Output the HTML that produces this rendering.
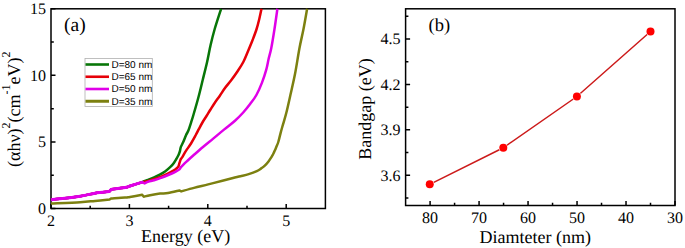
<!DOCTYPE html>
<html><head><meta charset="utf-8"><style>
html,body{margin:0;padding:0;background:#fff;}
body{width:685px;height:248px;overflow:hidden;}
svg{display:block;}
text{font-family:"Liberation Serif",serif;fill:#000;text-rendering:geometricPrecision;}
.t{font-size:16px;}
.ax{font-size:18px;}
.ax2{font-size:18px;}
.sup{font-size:12px;}
.lb{font-size:18.5px;}
.lg{font-family:"Liberation Sans",sans-serif;font-size:10px;}
</style></head><body>
<svg width="685" height="248" viewBox="0 0 685 248">
<rect x="51.0" y="8.8" width="274.40" height="199.70" fill="none" stroke="#000" stroke-width="1.5"/>
<path d="M51.00,208.5V204.00M129.40,208.5V204.00M207.80,208.5V204.00M286.20,208.5V204.00M90.20,208.5V205.70M168.60,208.5V205.70M247.00,208.5V205.70M51.0,208.50H55.50M51.0,141.93H55.50M51.0,75.37H55.50M51.0,8.80H55.50M51.0,175.22H53.80M51.0,108.65H53.80M51.0,42.08H53.80" stroke="#000" stroke-width="1.5" fill="none"/>
<text x="51.00" y="226.4" class="t" text-anchor="middle">2</text>
<text x="129.40" y="226.4" class="t" text-anchor="middle">3</text>
<text x="207.80" y="226.4" class="t" text-anchor="middle">4</text>
<text x="286.20" y="226.4" class="t" text-anchor="middle">5</text>
<text x="46.1" y="213.70" class="t" text-anchor="end">0</text>
<text x="46.1" y="147.13" class="t" text-anchor="end">5</text>
<text x="46.1" y="80.57" class="t" text-anchor="end">10</text>
<text x="46.1" y="14.00" class="t" text-anchor="end">15</text>
<g fill="none" stroke-width="2.5" stroke-linejoin="round" stroke-linecap="butt">
<path d="M51.00,199.80C55.87,199.20 72.87,197.30 80.20,196.20C87.53,195.10 90.15,193.98 95.00,193.20C99.85,192.42 106.92,191.78 109.30,191.50C109.60,191.15 110.80,189.75 111.10,189.40C113.42,189.10 121.85,188.17 125.00,187.60C128.15,187.03 127.07,186.92 130.00,186.00C132.93,185.08 140.50,182.75 142.60,182.10C143.58,181.53 146.58,180.43 148.50,179.70C150.42,178.97 152.22,178.33 154.10,177.50C155.98,176.67 157.92,175.75 159.80,174.70C161.68,173.65 163.63,172.50 165.40,171.20C167.17,169.90 169.05,168.18 170.40,166.90C171.75,165.62 172.52,164.82 173.50,163.50C174.48,162.18 175.47,160.42 176.30,159.00C177.13,157.58 177.88,156.33 178.50,155.00C179.12,153.67 179.75,151.67 180.00,151.00C180.13,150.37 180.28,148.65 180.80,147.20C181.32,145.75 182.22,144.33 183.10,142.30C183.98,140.27 185.22,136.97 186.10,135.00C186.98,133.03 187.55,132.65 188.40,130.50C189.25,128.35 190.37,124.68 191.20,122.10C192.03,119.52 192.18,119.18 193.40,115.00C194.62,110.82 196.95,102.83 198.50,97.00C200.05,91.17 201.27,85.83 202.70,80.00C204.13,74.17 205.78,67.83 207.10,62.00C208.42,56.17 209.33,50.50 210.60,45.00C211.87,39.50 212.95,35.03 214.70,29.00C216.45,22.97 220.03,12.17 221.10,8.80" stroke="#087608"/>
<path d="M51.00,199.80C55.87,199.20 72.87,197.30 80.20,196.20C87.53,195.10 90.15,193.98 95.00,193.20C99.85,192.42 106.92,191.78 109.30,191.50C109.60,191.15 110.80,189.75 111.10,189.40C113.42,189.10 121.85,188.17 125.00,187.60C128.15,187.03 127.07,186.92 130.00,186.00C132.93,185.08 140.50,182.75 142.60,182.10C143.58,181.75 146.10,181.60 148.50,181.00C150.90,180.40 154.42,179.23 157.00,178.30C159.58,177.37 161.88,176.35 164.00,175.40C166.12,174.45 167.83,173.60 169.70,172.60C171.57,171.60 173.77,170.40 175.20,169.40C176.63,168.40 177.58,167.70 178.30,166.60C179.02,165.50 179.10,164.03 179.50,162.80C179.90,161.57 180.50,159.80 180.70,159.20C181.00,158.80 181.60,158.22 182.50,156.80C183.40,155.38 184.68,152.92 186.10,150.70C187.52,148.48 189.38,146.12 191.00,143.50C192.62,140.88 194.50,137.38 195.80,135.00C197.10,132.62 197.65,131.37 198.80,129.20C199.95,127.03 201.42,124.20 202.70,122.00C203.98,119.80 205.20,118.08 206.50,116.00C207.80,113.92 209.08,111.75 210.50,109.50C211.92,107.25 213.42,104.83 215.00,102.50C216.58,100.17 218.33,97.92 220.00,95.50C221.67,93.08 223.17,90.50 225.00,88.00C226.83,85.50 228.96,83.20 231.00,80.50C233.04,77.80 235.20,74.88 237.25,71.80C239.30,68.72 241.46,65.55 243.30,62.00C245.14,58.45 246.75,54.17 248.30,50.50C249.85,46.83 251.22,43.58 252.60,40.00C253.98,36.42 255.47,32.58 256.60,29.00C257.73,25.42 258.58,21.87 259.40,18.50C260.22,15.13 261.15,10.42 261.50,8.80" stroke="#e60008"/>
<path d="M51.00,199.80C55.87,199.20 72.87,197.30 80.20,196.20C87.53,195.10 90.15,193.98 95.00,193.20C99.85,192.42 106.92,191.78 109.30,191.50C109.60,191.15 110.80,189.75 111.10,189.40C113.42,189.10 121.85,188.17 125.00,187.60C128.15,187.03 127.10,186.92 130.00,186.00C132.90,185.08 140.33,182.75 142.40,182.10C142.73,182.07 144.07,183.13 144.40,183.40C145.08,183.10 146.88,182.12 148.50,181.60C150.12,181.08 151.98,180.93 154.10,180.30C156.22,179.67 158.85,178.68 161.20,177.80C163.55,176.92 165.85,176.00 168.20,175.00C170.55,174.00 173.42,172.75 175.30,171.80C177.18,170.85 178.80,169.72 179.50,169.30C179.78,168.88 180.92,167.22 181.20,166.80C182.08,165.93 184.45,163.52 186.50,161.60C188.55,159.68 190.75,157.73 193.50,155.30C196.25,152.87 199.72,149.78 203.00,147.00C206.28,144.22 209.70,141.50 213.20,138.60C216.70,135.70 220.37,132.58 224.00,129.60C227.63,126.62 231.80,123.55 235.00,120.70C238.20,117.85 240.65,115.32 243.20,112.50C245.75,109.68 248.10,106.72 250.30,103.80C252.50,100.88 254.45,98.53 256.40,95.00C258.35,91.47 260.37,86.78 262.00,82.60C263.63,78.42 265.10,73.83 266.20,69.90C267.30,65.97 267.75,62.65 268.60,59.00C269.45,55.35 270.32,53.00 271.30,48.00C272.28,43.00 273.48,35.53 274.50,29.00C275.52,22.47 276.92,12.17 277.40,8.80" stroke="#e000e8"/>
<path d="M51.00,203.60C55.87,203.38 72.87,202.75 80.20,202.30C87.53,201.85 90.10,201.37 95.00,200.90C99.90,200.43 107.17,199.73 109.60,199.50C109.83,199.35 110.77,198.75 111.00,198.60C113.33,198.43 121.83,197.88 125.00,197.60C128.17,197.32 127.15,197.37 130.00,196.90C132.85,196.43 140.08,195.15 142.10,194.80C142.38,195.03 143.52,196.37 143.80,196.70C144.85,196.45 147.40,195.72 150.10,195.20C152.80,194.68 157.02,193.95 160.00,193.60C162.98,193.25 164.78,193.62 168.00,193.10C171.22,192.58 177.42,190.93 179.30,190.50C179.62,190.65 180.88,191.25 181.20,191.40C183.33,190.82 189.50,189.07 194.00,187.90C198.50,186.73 203.47,185.60 208.20,184.40C212.93,183.20 218.27,181.77 222.40,180.70C226.53,179.63 229.98,178.75 233.00,178.00C236.02,177.25 237.88,176.85 240.50,176.20C243.12,175.55 245.98,174.95 248.70,174.10C251.42,173.25 254.72,172.05 256.80,171.10C258.88,170.15 259.87,169.32 261.20,168.40C262.53,167.48 263.58,166.77 264.80,165.60C266.02,164.43 267.42,162.78 268.50,161.40C269.58,160.02 270.52,158.53 271.30,157.30C272.08,156.07 272.62,155.12 273.20,154.00C273.78,152.88 274.23,151.90 274.80,150.60C275.37,149.30 276.02,147.63 276.60,146.20C277.18,144.77 277.62,144.27 278.30,142.00C278.98,139.73 279.90,135.58 280.70,132.60C281.50,129.62 282.15,127.45 283.10,124.10C284.05,120.75 285.18,117.35 286.40,112.50C287.62,107.65 288.97,101.40 290.40,95.00C291.83,88.60 293.48,81.93 295.00,74.10C296.52,66.27 298.08,55.52 299.50,48.00C300.92,40.48 302.23,35.53 303.50,29.00C304.77,22.47 306.50,12.17 307.10,8.80" stroke="#7c8010"/>
<path d="M51.00,199.80C55.87,199.20 72.87,197.30 80.20,196.20C87.53,195.10 90.15,193.98 95.00,193.20C99.85,192.42 106.92,191.78 109.30,191.50C109.60,191.15 110.80,189.75 111.10,189.40C113.42,189.10 121.85,188.17 125.00,187.60C128.15,187.03 127.10,186.92 130.00,186.00C132.90,185.08 140.33,182.75 142.40,182.10" stroke="#e000e8" stroke-width="3"/>
</g>
<rect x="85" y="58.5" width="67.3" height="48" fill="#fff" stroke="#b0b0b0" stroke-width="0.8"/>
<path d="M85.5,64.50H109" stroke="#087608" stroke-width="2.6"/>
<text x="111.5" y="67.90" class="lg">D=80 nm</text>
<path d="M85.5,76.75H109" stroke="#e60008" stroke-width="2.6"/>
<text x="111.5" y="80.15" class="lg">D=65 nm</text>
<path d="M85.5,89.00H109" stroke="#e000e8" stroke-width="2.6"/>
<text x="111.5" y="92.40" class="lg">D=50 nm</text>
<path d="M85.5,101.25H109" stroke="#7c8010" stroke-width="3.0"/>
<text x="111.5" y="104.65" class="lg">D=35 nm</text>
<text x="64" y="30.8" class="lb" style="font-size:19.5px">(a)</text>
<text x="141" y="242.3" class="ax">Energy (eV)</text>
<text transform="translate(19.6,167) rotate(-90)" class="ax2">(αhν)<tspan class="sup" dy="-9.6">2</tspan><tspan dy="9.6">(cm</tspan><tspan class="sup" dy="-9.6">-1</tspan><tspan dy="9.6">eV)</tspan><tspan class="sup" dy="-9.6">2</tspan></text>
<rect x="405.6" y="8.8" width="269.40" height="196.70" fill="none" stroke="#000" stroke-width="1.5"/>
<path d="M430.09,205.5V201.00M479.07,205.5V201.00M528.05,205.5V201.00M577.04,205.5V201.00M626.02,205.5V201.00M675.00,205.5V201.00M454.58,205.5V202.70M503.56,205.5V202.70M552.55,205.5V202.70M601.53,205.5V202.70M650.51,205.5V202.70M405.6,175.24H410.10M405.6,129.85H410.10M405.6,84.45H410.10M405.6,39.06H410.10M405.6,197.93H408.40M405.6,152.54H408.40M405.6,107.15H408.40M405.6,61.76H408.40M405.6,16.37H408.40" stroke="#000" stroke-width="1.5" fill="none"/>
<text x="430.09" y="223.1" class="t" text-anchor="middle">80</text>
<text x="479.07" y="223.1" class="t" text-anchor="middle">70</text>
<text x="528.05" y="223.1" class="t" text-anchor="middle">60</text>
<text x="577.04" y="223.1" class="t" text-anchor="middle">50</text>
<text x="626.02" y="223.1" class="t" text-anchor="middle">40</text>
<text x="675.00" y="223.1" class="t" text-anchor="middle">30</text>
<text x="400.4" y="180.64" class="t" text-anchor="end">3.6</text>
<text x="400.4" y="135.25" class="t" text-anchor="end">3.9</text>
<text x="400.4" y="89.85" class="t" text-anchor="end">4.2</text>
<text x="400.4" y="44.46" class="t" text-anchor="end">4.5</text>
<path d="M429.75,184.30L503.30,147.75L576.90,96.50L650.50,31.50" stroke="#cc1a1a" stroke-width="1.5" fill="none"/>
<circle cx="429.75" cy="184.3" r="4.6" fill="#fff"/>
<circle cx="429.75" cy="184.3" r="4.0" fill="#ff0000"/>
<circle cx="503.3" cy="147.75" r="4.6" fill="#fff"/>
<circle cx="503.3" cy="147.75" r="4.0" fill="#ff0000"/>
<circle cx="576.9" cy="96.5" r="4.6" fill="#fff"/>
<circle cx="576.9" cy="96.5" r="4.0" fill="#ff0000"/>
<circle cx="650.5" cy="31.5" r="4.6" fill="#fff"/>
<circle cx="650.5" cy="31.5" r="4.0" fill="#ff0000"/>
<text x="428.5" y="30.7" class="lb">(b)</text>
<text x="479.5" y="242.5" class="ax">Diamteter (nm)</text>
<text transform="translate(371,159.8) rotate(-90)" class="ax">Bandgap (eV)</text>
</svg>
</body></html>
